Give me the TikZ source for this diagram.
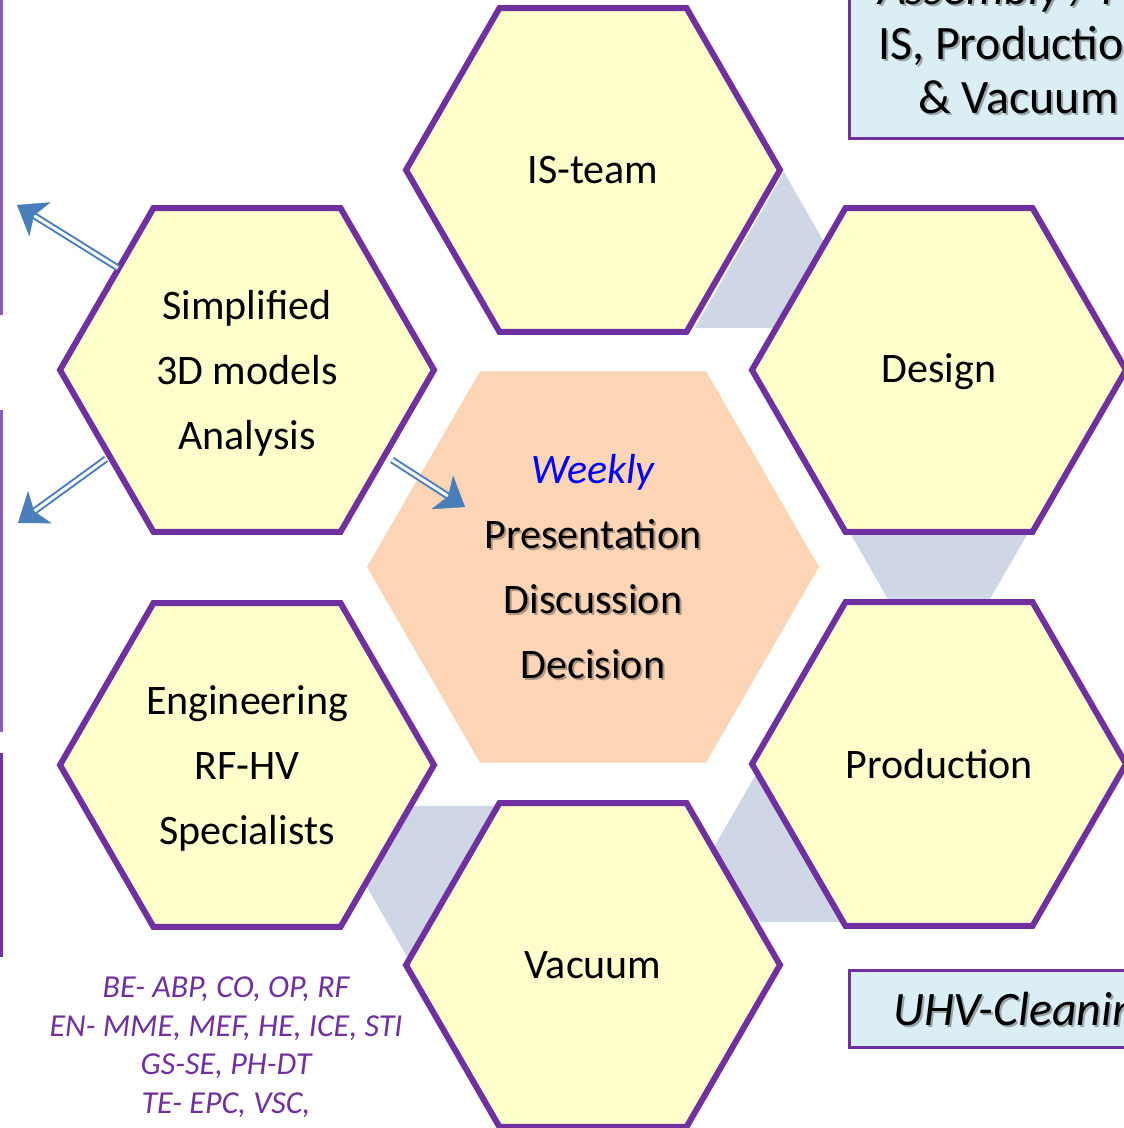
\documentclass[tikz,border=0pt]{standalone}
\usepackage{fontspec}
\setmainfont{Carlito}
\usetikzlibrary{arrows.meta,calc}

\definecolor{hexfill}{HTML}{FFFFCC}
\definecolor{hexline}{HTML}{7030A0}
\definecolor{hubfill}{HTML}{FBD5B5}
\definecolor{linkfill}{HTML}{CFD7E6}
\definecolor{boxfill}{HTML}{DAEEF3}
\definecolor{arrowblue}{HTML}{4A7EBB}
\definecolor{edgepurple}{HTML}{8A5CB8}
\definecolor{weekblue}{HTML}{0000FF}

\tikzset{
  % flat-topped hexagon of circumradius #2, drawn with style #1
  pics/hexa/.style args={#1/#2}{code={
    \path[#1] (0:#2) -- (60:#2) -- (120:#2) -- (180:#2) -- (240:#2) -- (300:#2) -- cycle;
  }},
  cell/.style={fill=hexfill, draw=hexline, line width=6pt, line join=miter},
  hub/.style={fill=hubfill},
  link/.style={fill=linkfill},
  celltext/.style={font=\fontsize{42}{65}\selectfont, align=center, inner sep=0pt},
  hubtext/.style={font=\fontsize{42}{65}\selectfont, align=center, inner sep=0pt},
  shade/.style={text=black, opacity=0.3},
  infobox/.style={fill=boxfill, draw=hexline, line width=2.5pt, inner sep=0pt},
  boxtext/.style={font=\fontsize{48}{54}\selectfont, inner sep=0pt, anchor=base west},
  teams/.style={font=\fontsize{32}{38.5}\selectfont\itshape, text=hexline, align=center, inner sep=0pt},
  sideedge/.style={draw=edgepurple, line width=3pt},
  shaft/.style={draw=arrowblue, line width=2pt, double=white, double distance=3pt, shorten >=16pt},
  head/.style={draw=arrowblue, fill=arrowblue, line width=0.4pt,
    -{Stealth[length=27pt, width=40pt, inset=7pt, fill=arrowblue]}},
}

\begin{document}
\begin{tikzpicture}[x=1pt, y=1pt]
\useasboundingbox (0,0) rectangle (1124,1128);
\clip (0,0) rectangle (1124,1128);

% cell centres
\coordinate (cIS)   at (593,958);
\coordinate (cDes)  at (939,758);
\coordinate (cProd) at (939,364);
\coordinate (cVac)  at (593,163);
\coordinate (cEng)  at (247,363);
\coordinate (cSim)  at (247,758);
\coordinate (cHub)  at (593,561);

% flow links between neighbouring cells
\path[link] (784,956) -- (873,800) -- (695,800) -- cycle;
\path[link] (850,595) -- (1028,595) -- (939,440) -- cycle;
\path[link] (760,361) -- (849,206) -- (671,206) -- cycle;
\path[link] (320,322) -- (498,322) -- (409,168) -- cycle;

% central hub
\pic at (cHub) {hexa={hub}/226};

% outer cells
\pic at (cIS)   {hexa={cell}/187};
\pic at (cDes)  {hexa={cell}/187};
\pic at (cProd) {hexa={cell}/187};
\pic at (cVac)  {hexa={cell}/187};
\pic at (cEng)  {hexa={cell}/187};
\pic at (cSim)  {hexa={cell}/187};

% cell labels
\node[celltext] (tIS)   at (cIS)   {IS-team};
\node[celltext] (tDes)  at ($(cDes)+(0,-2)$)  {Design};
\node[celltext] (tProd) at (cProd) {Production};
\node[celltext] (tVac)  at (cVac)  {Vacuum};
\node[celltext] (tSim)  at ($(cSim)+(0,-3)$) {Simplified\\3D models\\Analysis};
\node[celltext] (tEng)  at ($(cEng)+(0,-3)$) {Engineering\\RF-HV\\Specialists};

% hub text with soft shadow
\node[hubtext, shade, xshift=2pt, yshift=-2pt] (hubshadow) at (cHub)
  {\phantom{\itshape Weekly}\\Presentation\\Discussion\\Decision};
\node[hubtext] (hubtxt) at (cHub)
  {\textcolor{weekblue}{\itshape Weekly}\\Presentation\\Discussion\\Decision};

% side panels on the left (only their edges reach this area)
\draw[sideedge] (1,1128) -- (1,813);
\draw[sideedge] (1,718) -- (1,396);
\draw[sideedge, draw=hexline] (1,375) -- (1,171);

% information boxes on the right
\node[infobox, anchor=south west, minimum width=380pt, minimum height=200pt] (assembly) at (848,988) {};
\node[boxtext, shade, xshift=2pt, yshift=-2pt] (asm0s) at (878,1123) {\itshape Assembly / I};
\node[boxtext] (asm0) at (878,1123) {\itshape Assembly / I};
\node[boxtext, shade, xshift=2pt, yshift=-2pt] (asm1s) at (878,1068) {IS, Production};
\node[boxtext] (asm1) at (878,1068) {IS, Production};
\node[boxtext, shade, xshift=2pt, yshift=-2pt] (asm2s) at (918,1014) {\& Vacuum};
\node[boxtext] (asm2) at (918,1014) {\& Vacuum};

\node[infobox, anchor=south west, minimum width=380pt, minimum height=77pt] (uhv) at (848,79) {};
\node[boxtext, shade, xshift=2pt, yshift=-2pt] (uhvs) at (893,102) {\itshape UHV-Cleaning};
\node[boxtext] (uhvt) at (893,102) {\itshape UHV-Cleaning};

% groups involved
\node[teams] (groups) at (226,81)
  {BE- ABP, CO, OP, RF\\EN- MME, MEF, HE, ICE, STI\\GS-SE, PH-DT\\TE- EPC, VSC,};

% arrows leaving the analysis cell
\coordinate (a1s) at (118,860);  \coordinate (a1e) at (17,923);
\coordinate (a2s) at (106,669);  \coordinate (a2e) at (18,605);
\coordinate (a3s) at (392,668);  \coordinate (a3e) at (465,621);
\foreach \s/\e in {a1s/a1e, a2s/a2e, a3s/a3e}{
  \draw[shaft] (\s) -- (\e);
  \draw[head] ($(\e)!20pt!(\s)$) -- (\e);
}
\end{tikzpicture}
\end{document}
